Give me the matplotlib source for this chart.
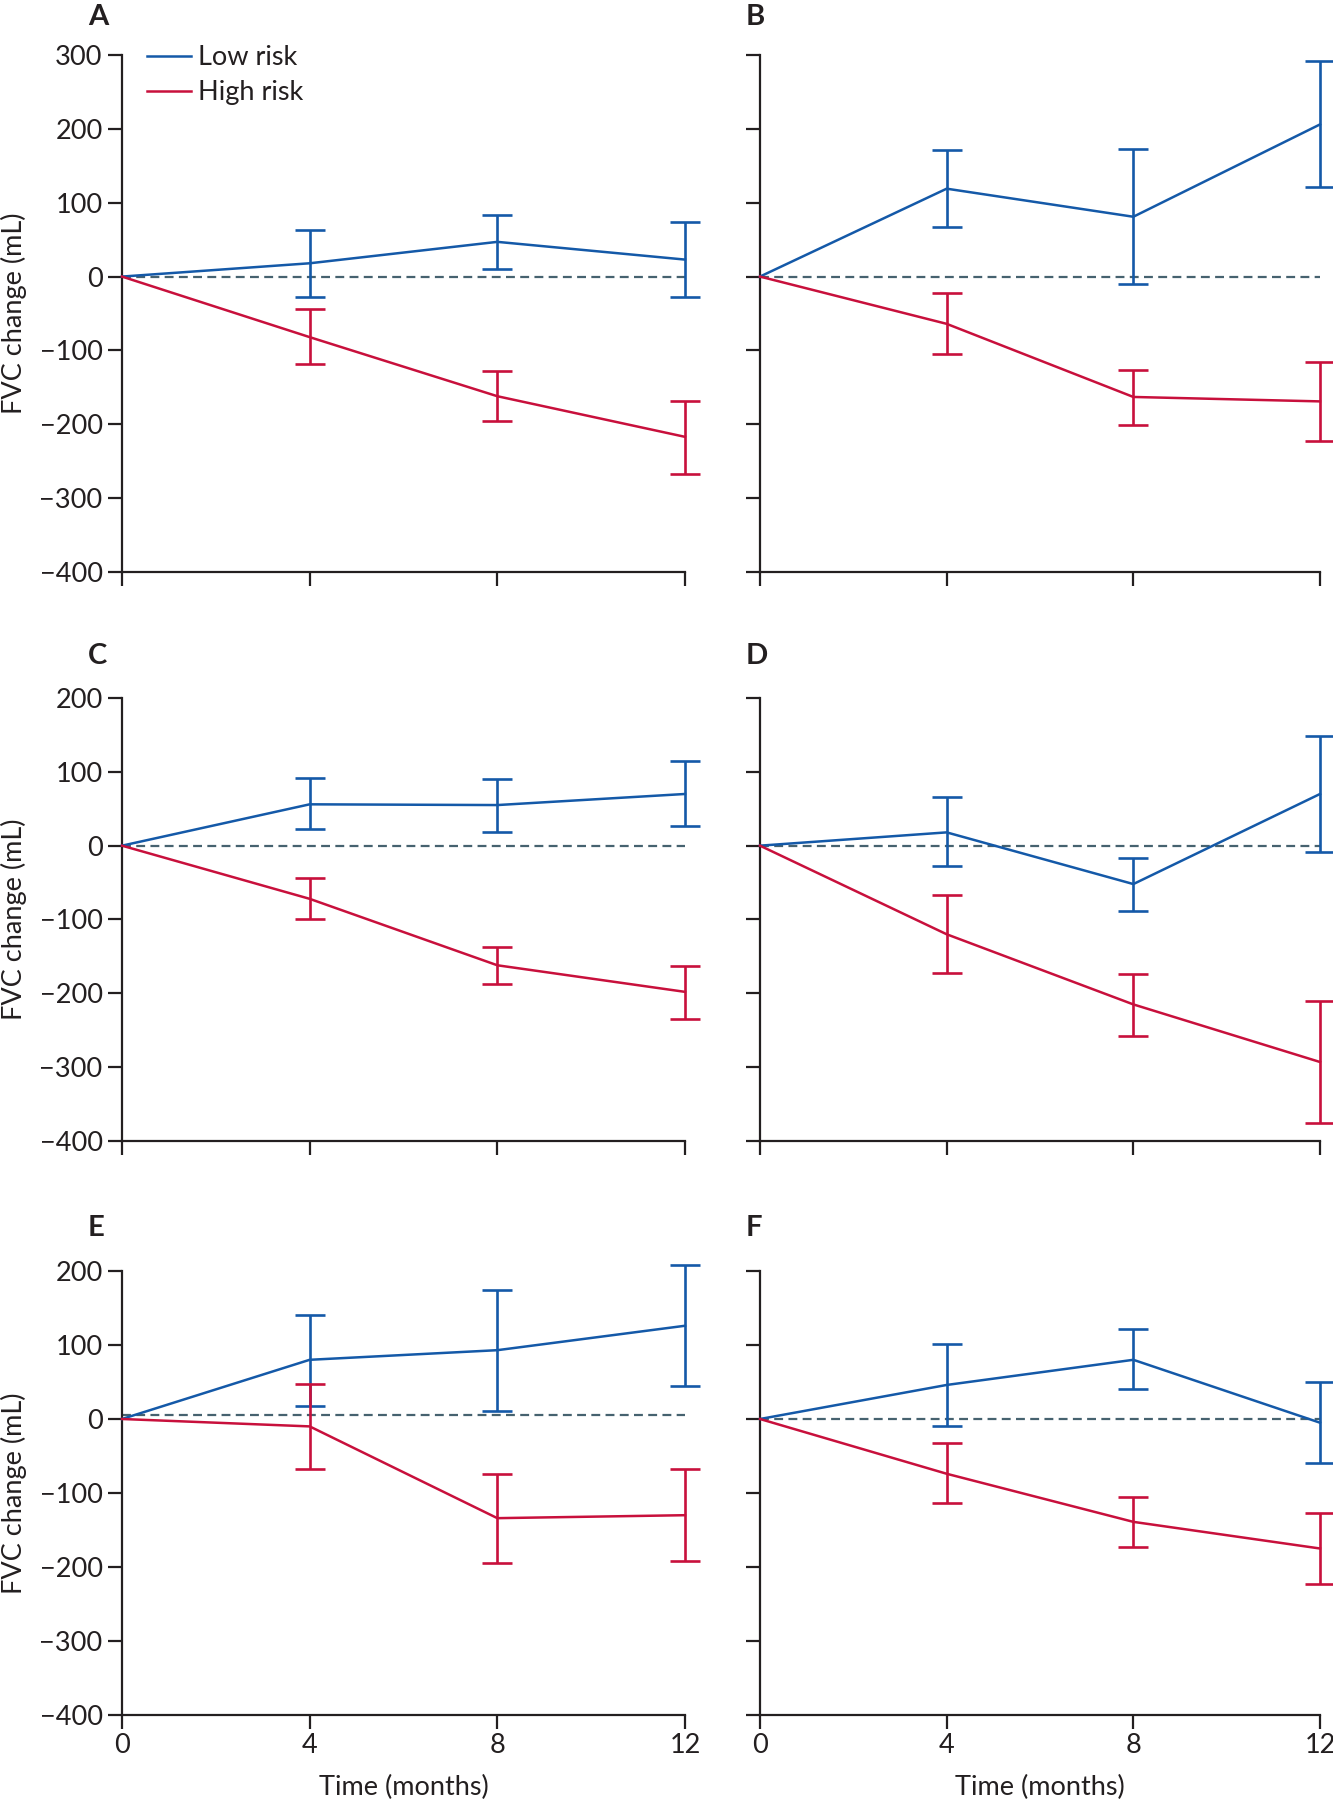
import numpy as np
import matplotlib.pyplot as plt

plt.rcParams['font.family'] = ['Lato', 'DejaVu Sans']

months = [0, 4, 8, 12]
panel_names = ['A', 'B', 'C', 'D', 'E', 'F']

# FVC change (mL), one row per panel: A..F
low_mean = [[0, 18, 47, 23], [0, 119, 81, 206], [0, 56, 55, 70],
            [0, 18, -52, 70], [0, 80, 93, 126], [0, 46, 80, -5]]
low_upper = [[0, 63, 84, 74], [0, 171, 173, 292], [0, 91, 90, 114],
             [0, 66, -17, 148], [0, 141, 174, 208], [0, 102, 121, 50]]
low_lower = [[0, -27, 10, -28], [0, 67, -10, 121], [0, 22, 19, 26],
             [0, -28, -88, -9], [0, 18, 11, 44], [0, -10, 40, -60]]

high_mean = [[0, -82, -162, -217], [0, -64, -163, -169], [0, -72, -162, -198],
             [0, -120, -215, -293], [0, -10, -134, -130], [0, -74, -139, -175]]
high_upper = [[0, -44, -128, -168], [0, -22, -126, -116], [0, -44, -137, -163],
              [0, -67, -174, -211], [0, 47, -75, -68], [0, -33, -105, -127]]
high_lower = [[0, -119, -195, -267], [0, -105, -201, -223], [0, -99, -187, -235],
              [0, -172, -258, -376], [0, -67, -194, -192], [0, -114, -173, -223]]

# reference dashed line (panel E is drawn slightly above zero in the original)
baseline = [0, 0, 0, 0, 5, 0]
y_top = [300, 300, 200, 200, 200, 200]

BLUE = '#1459a8'
RED = '#c8103c'
DASH = '#46626f'
INK = '#231f20'

W, H = 1333, 1800
col_x = [(122, 685), (760, 1320)]
row_y = [(55, 572), (698, 1141), (1271, 1715)]
letter_x = [88, 746]
letter_y = [17, 656, 1228]

fig = plt.figure(figsize=(W / 100, H / 100), dpi=100)

for i, name in enumerate(panel_names):
    r, c = divmod(i, 2)
    x0, x1 = col_x[c]
    yt, yb = row_y[r]
    ax = fig.add_axes([x0 / W, 1 - yb / H, (x1 - x0) / W, (yb - yt) / H])

    ax.axhline(baseline[i], color=DASH, lw=1.6, dashes=(4.0, 2.4), zorder=1)

    for mean, up, lo, col, lab in [(low_mean[i], low_upper[i], low_lower[i], BLUE, 'Low risk'),
                                   (high_mean[i], high_upper[i], high_lower[i], RED, 'High risk')]:
        m = np.array(mean)
        err = np.array([m - np.array(lo), np.array(up) - m])
        ax.plot(months, m, color=col, lw=1.8, label=lab, zorder=3, clip_on=False)
        ax.errorbar(months[1:], m[1:], yerr=err[:, 1:], fmt='none', ecolor=col,
                    elinewidth=1.9, capsize=11, capthick=1.9, zorder=3, clip_on=False)

    ax.set_xlim(0, 12)
    ax.set_ylim(-400, y_top[i])
    ax.set_xticks(months)
    ax.set_yticks(np.arange(-400, y_top[i] + 1, 100))
    for s in ['top', 'right']:
        ax.spines[s].set_visible(False)
    for s in ['left', 'bottom']:
        ax.spines[s].set_linewidth(1.6)
        ax.spines[s].set_color(INK)
    ax.tick_params(direction='out', length=10, width=1.6, color=INK,
                   labelsize=19.5, labelcolor=INK)
    ax.tick_params(axis='y', pad=4)
    ax.tick_params(axis='x', pad=3)

    if c == 0:
        ax.set_ylabel('FVC change (mL)', fontsize=19.5, color=INK)
        ax.yaxis.set_label_coords(-0.169, 0.5)
    else:
        ax.set_yticklabels([])
    if r == 2:
        ax.set_xlabel('Time (months)', fontsize=19.5, color=INK)
        ax.xaxis.set_label_coords(0.5, -0.135)
    else:
        ax.set_xticklabels([])

    if i == 0:
        ax.legend(loc='upper left', bbox_to_anchor=(0.044, 1.019), frameon=False,
                  fontsize=19.5, handlelength=1.65, handletextpad=0.25,
                  borderpad=0, borderaxespad=0, labelspacing=0.38, labelcolor=INK)

    fig.text(letter_x[c] / W, 1 - letter_y[r] / H, name, fontsize=21,
             fontweight='bold', color=INK, ha='left', va='center')

fig.savefig('out.png', dpi=100)
